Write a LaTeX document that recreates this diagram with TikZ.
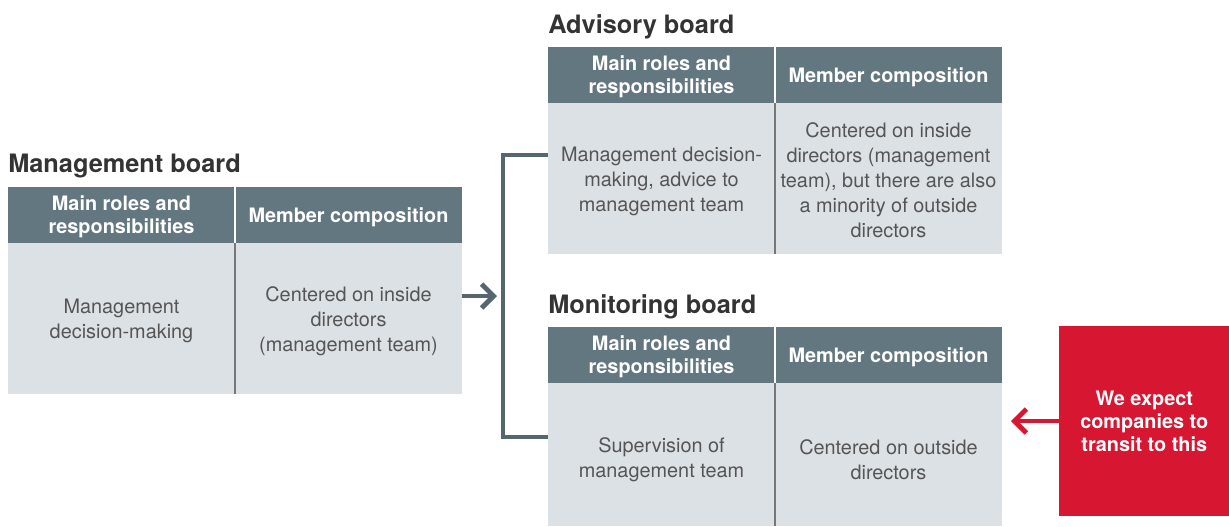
\documentclass[tikz,border=0pt]{standalone}
\usepackage{fontspec}
\setmainfont{TeX Gyre Heros}
\usetikzlibrary{arrows.meta}
\definecolor{hdr}{HTML}{637780}
\definecolor{bodyc}{HTML}{DCE1E6}
\definecolor{txt}{HTML}{555555}
\definecolor{ttl}{HTML}{333333}
\definecolor{redc}{HTML}{D71732}
\definecolor{brk}{HTML}{55666F}
\tikzset{
  hdrbox/.style={fill=hdr,draw=none},
  bodybox/.style={fill=bodyc,draw=none},
  hdrtext/.style={text=white,font=\fontsize{14.9}{17.3}\selectfont\bfseries,align=center},
  bodytext/.style={text=txt,font=\fontsize{14.9}{18.75}\selectfont,align=center},
  ttltext/.style={text=ttl,font=\fontsize{19}{22}\selectfont\bfseries,anchor=base west,inner sep=0pt},
  coldiv/.style={draw=white,line width=1pt},
  bodydiv/.style={draw=txt!80,line width=0.8pt},
  conn/.style={draw=brk,line width=3.6pt},
}
\begin{document}
\begin{tikzpicture}[x=0.75pt,y=-0.75pt]
\useasboundingbox (0,0) rectangle (1229,526);
% Management board
\node[ttltext] (t1) at (8,172) {Management board};
\fill[hdrbox] (8,187) rectangle (462,243);
\fill[bodybox] (8,243) rectangle (462,394);
\draw[coldiv] (235,187) -- (235,243);
\draw[bodydiv] (235,243) -- (235,394);
\node[hdrtext] (m1) at (121.5,217) {Main roles and\\responsibilities};
\node[hdrtext] (m2) at (348.5,217) {Member composition};
\node[bodytext] (m3) at (121.5,321) {Management\\decision-making};
\node[bodytext] (m4) at (348.5,321) {Centered on inside\\directors\\(management team)};
\coordinate (mgR) at (462,296);
% Advisory board
\node[ttltext] (t2) at (548,33) {Advisory board};
\fill[hdrbox] (548,47) rectangle (1002,103);
\fill[bodybox] (548,103) rectangle (1002,254);
\draw[coldiv] (775,47) -- (775,103);
\draw[bodydiv] (775,103) -- (775,254);
\node[hdrtext] (a1) at (661.5,77) {Main roles and\\responsibilities};
\node[hdrtext] (a2) at (888.5,77) {Member composition};
\node[bodytext] (a3) at (661.5,181) {Management decision-\\making, advice to\\management team};
\node[bodytext] (a4) at (888.5,180) {Centered on inside\\directors (management\\team), but there are also\\a minority of outside\\directors};
\coordinate (adL) at (548,155);
% Monitoring board
\node[ttltext] (t3) at (548,313) {Monitoring board};
\fill[hdrbox] (548,327) rectangle (1002,383);
\fill[bodybox] (548,383) rectangle (1002,526);
\draw[coldiv] (775,327) -- (775,383);
\draw[bodydiv] (775,383) -- (775,526);
\node[hdrtext] (b1) at (661.5,357) {Main roles and\\responsibilities};
\node[hdrtext] (b2) at (888.5,357) {Member composition};
\node[bodytext] (b3) at (661.5,460) {Supervision of\\management team};
\node[bodytext] (b4) at (888.5,460) {Centered on outside\\directors};
\coordinate (moL) at (548,437);
% bracket
\draw[conn] (adL) -- (503,155) -- (503,437) -- (moL);
\coordinate (brk) at (497,296);
\draw[draw=brk,line width=3.6pt,-{Straight Barb[length=9pt,width=18pt,line width=3.6pt]}] (mgR) -- (brk);
% red box
\node[fill=redc,minimum width=127.5pt,minimum height=142.5pt,inner sep=0pt,anchor=north west,text=white,font=\fontsize{14.9}{17.3}\selectfont\bfseries,align=center] (red) at (1059,326) {We expect\\companies to\\transit to this};
\coordinate (redtip) at (1011,421);
\draw[draw=redc,line width=3.6pt,-{Straight Barb[length=9pt,width=18pt,line width=3.6pt]}] (red.west |- redtip) -- (redtip);
\end{tikzpicture}
\end{document}
